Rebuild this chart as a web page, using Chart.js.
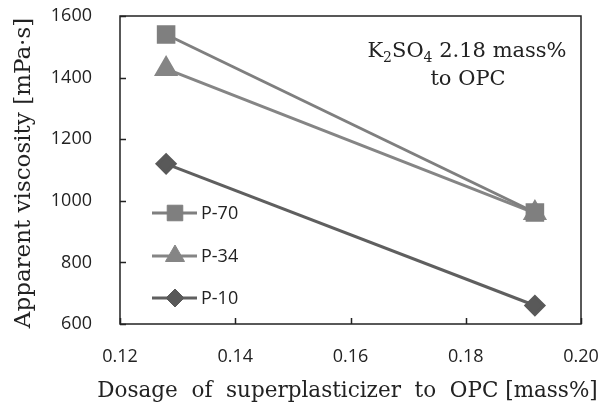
<!DOCTYPE html>
<html>
<head>
<meta charset="utf-8">
<script src="https://cdn.jsdelivr.net/npm/chart.js@4.4.1/dist/chart.umd.min.js"></script>
<style>
  html, body { margin: 0; padding: 0; background: #fff; }
  #wrap { width: 601px; height: 405px; }
</style>
</head>
<body>
<div id="wrap"><canvas id="myChart"></canvas></div>
<script>
// dosage of superplasticizer [mass%]
const dosage = [0.128, 0.192];
const p70 = [1540, 962];
const p34 = [1428, 960];
const p10 = [1120, 660];
const seriesNames = ["P-70", "P-34", "P-10"];
const xTicks = [0.12, 0.14, 0.16, 0.18, 0.20];
const yTicks = [600, 800, 1000, 1200, 1400, 1600];
const xTitle = "Dosage  of  superplasticizer  to  OPC [mass%]";
const yTitle = "Apparent viscosity [mPa·s]";

function toPoints(vals) {
  return vals.map((v, i) => ({ x: dosage[i], y: v }));
}

// frame, inward ticks, axis titles, legend and the note
const extras = {
  id: "extras",
  afterDraw(chart) {
    const ctx = chart.ctx;
    const a = chart.chartArea;
    const xs = chart.scales.x, ys = chart.scales.y;
    ctx.save();
    ctx.strokeStyle = "#222";
    ctx.lineWidth = 1.5;
    ctx.strokeRect(a.left, a.top, a.right - a.left, a.bottom - a.top);
    ctx.beginPath();
    xTicks.forEach((t) => {
      const px = Math.round(xs.getPixelForValue(t)) + 0.5;
      ctx.moveTo(px, a.bottom);
      ctx.lineTo(px, a.bottom - 6);
    });
    yTicks.forEach((t) => {
      const py = Math.round(ys.getPixelForValue(t)) + 0.5;
      ctx.moveTo(a.left, py);
      ctx.lineTo(a.left + 6, py);
    });
    ctx.stroke();

    // axis titles
    ctx.fillStyle = "#222";
    ctx.textBaseline = "alphabetic";
    ctx.textAlign = "center";
    ctx.font = "21.5px 'DejaVu Serif'";
    ctx.fillText(xTitle, (a.left + a.right) / 2 - 3, 397);
    ctx.save();
    ctx.translate(30, (a.top + a.bottom) / 2 + 3);
    ctx.rotate(-Math.PI / 2);
    ctx.font = "23px 'DejaVu Serif'";
    ctx.fillText(yTitle, 0, 0);
    ctx.restore();

    // legend
    const rows = [213, 256, 298];
    chart.data.datasets.forEach((ds, i) => {
      const y = rows[i];
      ctx.strokeStyle = ds.borderColor;
      ctx.lineWidth = 3;
      ctx.beginPath();
      ctx.moveTo(152, y);
      ctx.lineTo(197, y);
      ctx.stroke();
      ctx.fillStyle = ds.pointBackgroundColor;
      ctx.strokeStyle = ds.pointBorderColor;
      ctx.lineWidth = 1;
      Chart.helpers.drawPoint(ctx, {
        pointStyle: ds.pointStyle,
        radius: ds.pointRadius,
        borderWidth: 1
      }, 175, y);
      ctx.fillStyle = "#222";
      ctx.font = "18px 'Open Sans'";
      ctx.textAlign = "left";
      ctx.textBaseline = "middle";
      ctx.fillText(ds.label, 201, y + 1);
    });

    // note: K2SO4 2.18 mass% to OPC
    ctx.fillStyle = "#222";
    ctx.textBaseline = "alphabetic";
    const big = "21px 'DejaVu Serif'";
    const small = "14px 'DejaVu Serif'";
    const parts = [["K", big, 0], ["2", small, 5], ["SO", big, 0], ["4", small, 5], [" 2.18 mass%", big, 0]];
    let w = 0;
    parts.forEach((p) => { ctx.font = p[1]; w += ctx.measureText(p[0]).width; });
    let x = 467 - w / 2;
    ctx.textAlign = "left";
    parts.forEach((p) => {
      ctx.font = p[1];
      ctx.fillText(p[0], x, 57 + p[2]);
      x += ctx.measureText(p[0]).width;
    });
    ctx.font = big;
    ctx.textAlign = "center";
    ctx.fillText("to OPC", 468, 85);
    ctx.restore();
  }
};

const ctx = document.getElementById("myChart");
new Chart(ctx, {
  type: "line",
  data: {
    datasets: [
      {
        label: seriesNames[0],
        data: toPoints(p70),
        borderColor: "#7f7f7f",
        pointBackgroundColor: "#7f7f7f",
        pointBorderColor: "#7f7f7f",
        pointStyle: "rect",
        pointRadius: 11,
        borderWidth: 3
      },
      {
        label: seriesNames[1],
        data: toPoints(p34),
        borderColor: "#858585",
        pointBackgroundColor: "#858585",
        pointBorderColor: "#858585",
        pointStyle: "triangle",
        pointRadius: 11,
        borderWidth: 3
      },
      {
        label: seriesNames[2],
        data: toPoints(p10),
        borderColor: "#5f5f5f",
        pointBackgroundColor: "#595959",
        pointBorderColor: "#595959",
        pointStyle: "rectRot",
        pointRadius: 9,
        borderWidth: 3
      }
    ]
  },
  options: {
    responsive: true,
    maintainAspectRatio: false,
    animation: false,
    layout: { autoPadding: false, padding: { top: 16, right: 20, left: 0, bottom: 0 } },
    plugins: {
      legend: { display: false },
      tooltip: { enabled: false }
    },
    scales: {
      x: {
        type: "linear",
        min: 0.12,
        max: 0.20,
        afterBuildTicks: (s) => { s.ticks = xTicks.map((v) => ({ value: v })); },
        afterFit: (s) => {
          s.height = 81;
          s.paddingLeft = 0;
          s.paddingRight = 0;
        },
        grid: { display: false },
        border: { display: false },
        ticks: {
          padding: 14,
          color: "#222",
          font: { family: "'Open Sans'", size: 18 },
          callback: (v) => v.toFixed(2)
        }
      },
      y: {
        min: 600,
        max: 1600,
        afterBuildTicks: (s) => { s.ticks = yTicks.map((v) => ({ value: v })); },
        afterFit: (s) => {
          s.width = 120;
          s.paddingTop = 0;
          s.paddingBottom = 0;
        },
        grid: { display: false },
        border: { display: false },
        ticks: {
          padding: 20,
          color: "#222",
          font: { family: "'Open Sans'", size: 18 },
          callback: (v) => String(v)
        }
      }
    }
  },
  plugins: [extras]
});
</script>
</body>
</html>
